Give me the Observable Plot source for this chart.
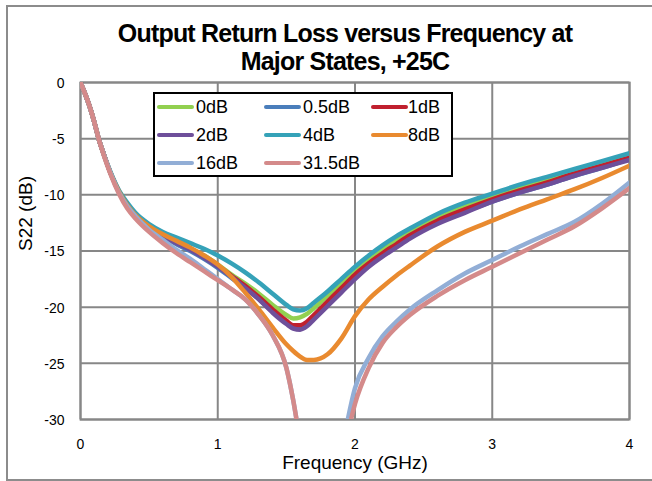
<!DOCTYPE html>
<html>
<head>
<meta charset="utf-8">
<script src="https://cdn.jsdelivr.net/npm/d3@7"></script>
<script src="https://cdn.jsdelivr.net/npm/@observablehq/plot@0.6"></script>
<style>
  html, body { margin: 0; padding: 0; background: #ffffff; }
  body { font-family: "Liberation Sans", Arial, sans-serif; }
  #wrap { position: relative; width: 652px; height: 481px; overflow: hidden; background: #ffffff; }
  #wrap svg { position: absolute; left: 0; top: 0; }
  #border { position: absolute; left: 6px; top: 5px; width: 700px; height: 472px; border: 2px solid #8c8c8c; pointer-events: none; }
  #title { position: absolute; left: 19px; top: 19px; width: 652px; text-align: center; font-weight: bold;
           font-size: 25px; line-height: 28px; letter-spacing: -0.8px; color: #000; }
  #legend { position: absolute; left: 153px; top: 92px; width: 296px; height: 81px; border: 2px solid #000; background: #fff; }
  .sw { position: absolute; height: 4px; border-radius: 2px; }
  .lt { position: absolute; font-size: 18px; line-height: 20px; color: #000; white-space: nowrap; }
</style>
</head>
<body>
<div id="wrap">
  <div id="border"></div>
  <div id="title"></div>
  <div id="legend"></div>
</div>
<script>
// ---- data ----
const titleLines = ["Output Return Loss versus Frequency at", "Major States, +25C"];
const xLabel = "Frequency (GHz)";
const yLabel = "S22 (dB)";
const xTicks = [0, 1, 2, 3, 4];
const yTicks = [0, -5, -10, -15, -20, -25, -30];

const seriesNames  = ["0dB", "0.5dB", "1dB", "2dB", "4dB", "8dB", "16dB", "31.5dB"];
const seriesColors = ["#92D050", "#4A7EBB", "#C0202E", "#6E4F9A", "#35A2B8", "#E98A2F", "#92AED6", "#D48A8A"];

const freqGHz = [0, 0.03, 0.06, 0.1, 0.13, 0.17, 0.22, 0.28, 0.34, 0.4, 0.5, 0.6, 0.7, 0.8, 0.9, 1.0, 1.1, 1.2, 1.3, 1.4,
                 1.5, 1.55, 1.6, 1.65, 1.7, 1.8, 1.9, 2.0, 2.1, 2.2, 2.3, 2.4, 2.6, 2.8, 3.0, 3.2, 3.4, 3.6, 3.8, 4.0];

const s22_0dB   = [0, -0.9, -1.9, -3.5, -4.9, -6.4, -8.1, -9.7, -10.9, -11.7, -12.8, -13.6, -14.2, -14.8, -15.4, -16.2, -17.1, -17.9, -18.8, -19.8,
                   -20.7, -21.0, -20.9, -20.6, -20.1, -19.0, -17.9, -16.8, -15.8, -14.9, -14.1, -13.3, -12.0, -11.0, -10.1, -9.3, -8.6, -7.9, -7.2, -6.5];
const s22_05dB  = [0, -0.9, -1.9, -3.5, -4.9, -6.4, -8.1, -9.7, -10.9, -11.8, -12.9, -13.7, -14.4, -15.0, -15.7, -16.5, -17.4, -18.3, -19.3, -20.4,
                   -21.3, -21.7, -21.8, -21.5, -20.9, -19.7, -18.5, -17.3, -16.3, -15.4, -14.6, -13.8, -12.5, -11.5, -10.6, -9.8, -9.1, -8.3, -7.6, -6.8];
const s22_1dB   = [0, -0.9, -1.9, -3.5, -4.9, -6.4, -8.1, -9.7, -10.9, -11.8, -12.8, -13.6, -14.2, -14.8, -15.5, -16.3, -17.2, -18.1, -19.1, -20.2,
                   -21.2, -21.6, -21.6, -21.3, -20.7, -19.5, -18.3, -17.1, -16.1, -15.2, -14.4, -13.6, -12.3, -11.3, -10.4, -9.6, -8.9, -8.1, -7.4, -6.7];
const s22_2dB   = [0, -0.9, -1.9, -3.5, -4.9, -6.4, -8.1, -9.7, -10.9, -11.8, -12.9, -13.7, -14.3, -14.9, -15.6, -16.4, -17.3, -18.3, -19.3, -20.5,
                   -21.5, -21.9, -22.0, -21.7, -21.1, -19.9, -18.7, -17.5, -16.4, -15.5, -14.7, -13.9, -12.6, -11.6, -10.6, -9.8, -9.1, -8.3, -7.6, -6.9];
const s22_4dB   = [0, -0.9, -1.9, -3.5, -4.9, -6.4, -8.0, -9.6, -10.7, -11.6, -12.6, -13.3, -13.8, -14.3, -14.8, -15.4, -16.1, -16.9, -17.8, -18.8,
                   -19.8, -20.2, -20.3, -20.1, -19.6, -18.6, -17.5, -16.4, -15.4, -14.5, -13.7, -13.0, -11.7, -10.7, -9.9, -9.1, -8.4, -7.7, -7.0, -6.3];
const s22_8dB   = [0, -0.9, -1.9, -3.5, -4.9, -6.4, -8.1, -9.7, -10.9, -11.8, -12.8, -13.5, -14.1, -14.7, -15.4, -16.2, -17.3, -18.7, -20.2, -21.8,
                   -23.3, -23.9, -24.4, -24.7, -24.7, -24.2, -22.8, -20.8, -19.3, -18.2, -17.2, -16.3, -14.6, -13.3, -12.3, -11.3, -10.4, -9.5, -8.5, -7.4];
const s22_16dB  = [0, -0.9, -1.9, -3.5, -4.9, -6.4, -8.1, -9.8, -11.0, -11.9, -13.1, -14.0, -14.9, -15.7, -16.6, -17.5, -18.4, -19.3, -20.7, -22.5,
                   -25.4, -28.3, -32.0, null, null, null, -33.0, -27.2, -24.5, -22.6, -21.3, -20.2, -18.5, -17.0, -15.8, -14.6, -13.5, -12.4, -10.8, -8.9];
const s22_315dB = [0, -0.9, -1.9, -3.5, -4.9, -6.5, -8.2, -9.9, -11.2, -12.1, -13.3, -14.3, -15.2, -16.0, -16.8, -17.6, -18.4, -19.3, -20.7, -22.5,
                   -25.4, -28.3, -32.0, null, null, null, -34.0, -28.6, -25.4, -23.2, -21.8, -20.7, -19.0, -17.6, -16.4, -15.2, -14.0, -12.8, -11.2, -9.4];

// ---- tidy table built from the arrays ----
const seriesValues = [s22_0dB, s22_05dB, s22_1dB, s22_2dB, s22_4dB, s22_8dB, s22_16dB, s22_315dB];
const rows = [];
seriesNames.forEach((name, i) => {
  freqGHz.forEach((f, j) => rows.push({f, v: seriesValues[i][j], s: name}));
});

const gridColor = "#878787";
const chart = Plot.plot({
  width: 652,
  height: 481,
  marginTop: 82,
  marginBottom: 62,
  marginLeft: 80,
  marginRight: 23,
  style: {fontFamily: "'Liberation Sans', Arial, sans-serif", background: "transparent", color: "#000"},
  x: {domain: [0, 4]},
  y: {domain: [-30, 0]},
  color: {domain: seriesNames, range: seriesColors},
  marks: [
    Plot.gridX(xTicks, {stroke: gridColor, strokeOpacity: 1, strokeWidth: 2}),
    Plot.gridY(yTicks, {stroke: gridColor, strokeOpacity: 1, strokeWidth: 2}),
    Plot.frame({stroke: gridColor, strokeWidth: 2}),
    Plot.line(rows, {x: "f", y: "v", z: "s", stroke: "s", strokeWidth: 4.5, clip: true,
                     curve: "monotone-x", strokeLinejoin: "round", strokeLinecap: "round"}),
    Plot.axisX(xTicks, {tickSize: 0, tickPadding: 20, fontSize: 14, label: null, tickFormat: d => String(d)}),
    Plot.axisY(yTicks, {tickSize: 0, tickPadding: 16, fontSize: 14, label: null, tickFormat: d => String(d), dy: 1}),
    Plot.text([xLabel], {frameAnchor: "bottom", dy: 49, fontSize: 19, text: d => d}),
    Plot.text([yLabel], {frameAnchor: "left", dx: -55, rotate: -90, fontSize: 19, text: d => d})
  ]
});
const wrap = document.getElementById("wrap");
wrap.insertBefore(chart, wrap.firstChild);

// title
const title = document.getElementById("title");
titleLines.forEach(t => { const d = document.createElement("div"); d.textContent = t; title.appendChild(d); });

// legend (3 columns x 3 rows)
const legend = document.getElementById("legend");
const colSw = [2, 109, 216], colTx = [41, 148, 253], rowC = [13, 41, 69];
seriesNames.forEach((name, i) => {
  const r = Math.floor(i / 3), c = i % 3;
  const sw = document.createElement("div");
  sw.className = "sw";
  sw.style.left = colSw[c] + "px"; sw.style.top = (rowC[r] - 2) + "px"; sw.style.width = "37px";
  sw.style.background = seriesColors[i];
  legend.appendChild(sw);
  const tx = document.createElement("div");
  tx.className = "lt";
  tx.style.left = colTx[c] + "px"; tx.style.top = (rowC[r] - 10) + "px";
  tx.textContent = name;
  legend.appendChild(tx);
});
</script>
</body>
</html>
